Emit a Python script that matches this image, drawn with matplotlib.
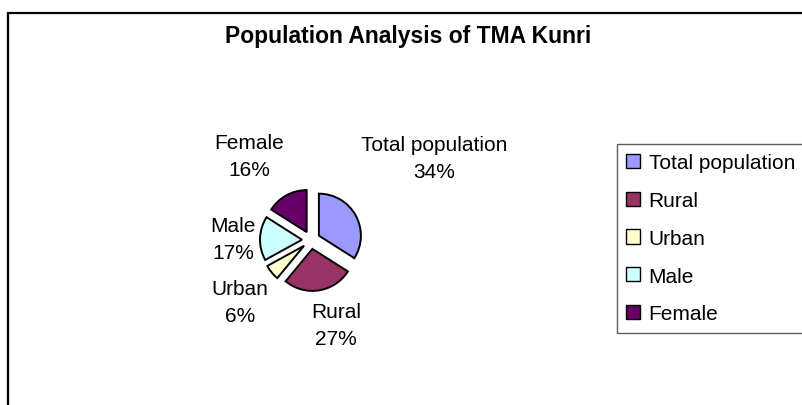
import matplotlib
matplotlib.use("Agg")
import matplotlib.pyplot as plt
from matplotlib.patches import Rectangle

plt.rcParams['font.family'] = ['Liberation Sans', 'DejaVu Sans']

# data
categories = ['Total population', 'Rural', 'Urban', 'Male', 'Female']
values = [34, 27, 6, 17, 16]
colors = ['#9999FF', '#993366', '#FFFFCC', '#CCFFFF', '#660066']

W, H = 802, 406
fig = plt.figure(figsize=(W / 100, H / 100), dpi=100)
ax = fig.add_axes([0, 0, 1, 1])

# pie in pixel-like data units (y up)
cx, cy = 311, H - 241
wedges, _ = ax.pie(values, colors=colors, startangle=90, counterclock=False,
                   center=(cx, cy), radius=42, explode=[9] * len(values),
                   wedgeprops=dict(edgecolor='black', linewidth=1.4))
ax.set_xlim(0, W)
ax.set_ylim(0, H)
ax.set_aspect('equal')
ax.axis('off')

# data labels (text centres, pixels from top-left)
label_pos = [(434, 159), (336, 326), (240, 303), (233, 240), (249, 157)]
total = sum(values)
for name, v, (lx, ly) in zip(categories, values, label_pos):
    ax.text(lx, H - ly, f"{name}\n{v / total * 100:.0f}%", ha='center', va='center',
            fontsize=15, linespacing=1.55, multialignment='center')

# title
fig.text(408 / W, 1 - 37 / H, 'Population Analysis of TMA Kunri',
         ha='center', va='center', fontsize=16.5, fontweight='bold')

# chart border
fig.patches.append(Rectangle((8 / W, -0.1), 1.2, 1 - 14 / H + 0.1, transform=fig.transFigure,
                             fill=False, edgecolor='black', linewidth=1.6))

leg = fig.legend(wedges, categories, loc='upper left',
                 bbox_to_anchor=(617 / W, 1 - 145 / H), fontsize=15,
                 frameon=True, fancybox=False, edgecolor='#333333',
                 handlelength=0.67, handleheight=0.67, handletextpad=0.4,
                 labelspacing=0.9, borderpad=0.45, borderaxespad=0)
leg.get_frame().set_linewidth(1.0)
for h in leg.legend_handles:
    h.set_linewidth(1.0)

fig.savefig('out.png', dpi=100)
